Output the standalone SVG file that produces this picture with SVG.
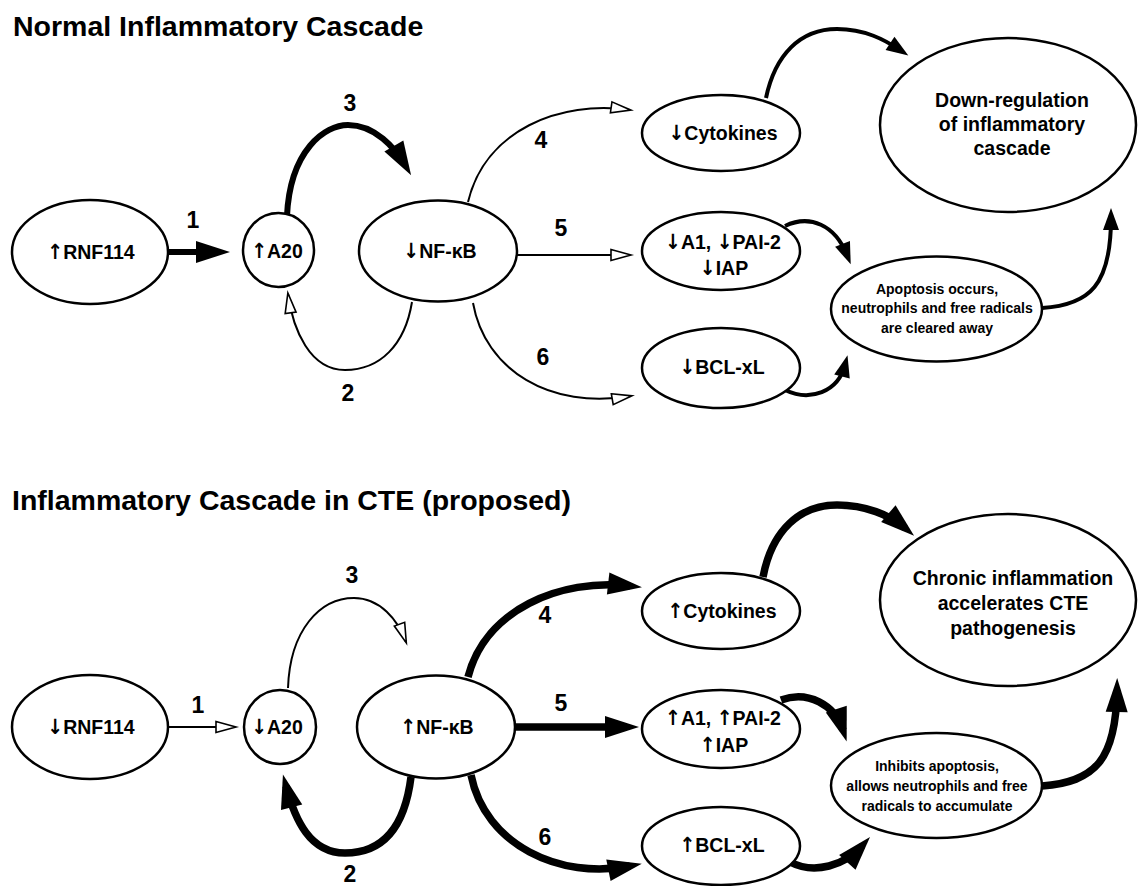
<svg xmlns="http://www.w3.org/2000/svg" width="1138" height="886" viewBox="0 0 1138 886">
<style>
.nd{fill:#fff;stroke:#000;stroke-width:2.5}
.t{font-family:"Liberation Sans",Arial,sans-serif;font-weight:bold;fill:#000;text-anchor:middle}
.ar{font-family:"DejaVu Sans Condensed","DejaVu Sans",sans-serif;font-weight:bold;font-size:21px;fill:#000}
.n{font-size:19.5px}
.s{font-size:14px}
.num{font-size:23px}
.big{font-size:19.5px}
.ttl{font-family:"Liberation Sans",Arial,sans-serif;font-weight:bold;font-size:28.5px;fill:#000}
.c{fill:none;stroke:#000}
.thin{stroke-width:2}
.med{stroke-width:4}
.thk{stroke-width:6}
.hvy{stroke-width:7.5}
</style>
<defs>
<marker id="hf" markerUnits="userSpaceOnUse" markerWidth="34" markerHeight="22" refX="22" refY="11" orient="auto" overflow="visible">
<path d="M0,0 L34,11 L0,22 Z" fill="#000"/>
</marker>
<marker id="mf" markerUnits="userSpaceOnUse" markerWidth="22" markerHeight="16" refX="12" refY="8" orient="auto" overflow="visible">
<path d="M0,0 L22,8 L0,16 Z" fill="#000"/>
</marker>
<marker id="op" markerUnits="userSpaceOnUse" markerWidth="20" markerHeight="11" refX="19" refY="5.5" orient="auto" overflow="visible">
<path d="M0,0 L20,5.5 L0,11 Z" fill="#fff" stroke="#000" stroke-width="1.6"/>
</marker>
</defs>

<text class="ttl" x="13" y="36">Normal Inflammatory Cascade</text>
<text class="ttl" x="12" y="510">Inflammatory Cascade in CTE (proposed)</text>

<g id="connectors">
<!-- top panel -->
<path class="c thk" d="M168,252 L218,252" marker-end="url(#hf)"/>
<path class="c thk" d="M287,216 C290,150 325,125 348,125 C375,125 395,148 405,165" marker-end="url(#hf)"/>
<path class="c thin" d="M412,302 C405,345 380,370 345,370 C310,370 293,330 288,294" marker-end="url(#op)"/>
<path class="c thin" d="M468,202 C485,130 560,100 630,110" marker-end="url(#op)"/>
<path class="c thin" d="M517,255 L630,255" marker-end="url(#op)"/>
<path class="c thin" d="M473,303 C485,370 550,410 631,396" marker-end="url(#op)"/>
<path class="c med" d="M766,98 C775,55 800,29 837,29 C865,29 885,40 900,50" marker-end="url(#mf)"/>
<path class="c med" d="M785,226 C810,214 835,225 847,255" marker-end="url(#mf)"/>
<path class="c med" d="M785,390 C810,402 838,392 845,365" marker-end="url(#mf)"/>
<path class="c med" d="M1042,308 C1090,305 1111,285 1111,218" marker-end="url(#mf)"/>
<!-- bottom panel -->
<path class="c thin" d="M168,727 L235,727" marker-end="url(#op)"/>
<path class="c thin" d="M288,688 C290,630 320,598 354,598 C380,598 398,620 406,642" marker-end="url(#op)"/>
<path class="c hvy" d="M411,777 C405,825 385,853 345,853 C310,853 295,820 286,786" marker-end="url(#hf)"/>
<path class="c hvy" d="M468,677 C485,610 560,578 630,586" marker-end="url(#hf)"/>
<path class="c hvy" d="M515,727 L627,727" marker-end="url(#hf)"/>
<path class="c hvy" d="M471,775 C485,845 560,880 630,866" marker-end="url(#hf)"/>
<path class="c hvy" d="M763,577 C772,530 800,505 837,505 C865,505 890,515 905,528" marker-end="url(#hf)"/>
<path class="c hvy" d="M781,700 C808,690 835,705 843,730" marker-end="url(#hf)"/>
<path class="c hvy" d="M790,862 C815,875 845,865 862,846" marker-end="url(#hf)"/>
<path class="c hvy" d="M1042,786 C1095,782 1116,760 1117,690" marker-end="url(#hf)"/>
<!-- labels -->
<text class="t num" x="193" y="228">1</text>
<text class="t num" x="348" y="401">2</text>
<text class="t num" x="350" y="111">3</text>
<text class="t num" x="541" y="148">4</text>
<text class="t num" x="561" y="236">5</text>
<text class="t num" x="543" y="365">6</text>
<text class="t num" x="198" y="713">1</text>
<text class="t num" x="350" y="882">2</text>
<text class="t num" x="352" y="583">3</text>
<text class="t num" x="545" y="623">4</text>
<text class="t num" x="561" y="711">5</text>
<text class="t num" x="545" y="845">6</text>
</g>

<!-- top nodes -->
<g id="rnf114-top"><ellipse class="nd" cx="90" cy="252" rx="78" ry="52"/><text class="t n" x="91" y="259"><tspan class="ar">↑</tspan>RNF114</text></g>
<g id="a20-top"><ellipse class="nd" cx="278.5" cy="250" rx="35.5" ry="37"/><text class="t n" x="277" y="258"><tspan class="ar">↑</tspan>A20</text></g>
<g id="nfkb-top"><ellipse class="nd" cx="438" cy="251" rx="79" ry="50.5"/><text class="t n" x="440" y="258"><tspan class="ar">↓</tspan>NF-κB</text></g>
<g id="cytokines-top"><ellipse class="nd" cx="721" cy="133" rx="79" ry="38"/><text class="t n" x="723" y="140"><tspan class="ar">↓</tspan>Cytokines</text></g>
<g id="a1-top"><ellipse class="nd" cx="721" cy="251" rx="79" ry="39"/><text class="t n" x="723" y="249"><tspan class="ar">↓</tspan>A1, <tspan class="ar">↓</tspan>PAI-2</text><text class="t n" x="724" y="275"><tspan class="ar">↓</tspan>IAP</text></g>
<g id="bclxl-top"><ellipse class="nd" cx="721" cy="368" rx="79" ry="40"/><text class="t n" x="722" y="374"><tspan class="ar">↓</tspan>BCL-xL</text></g>
<g id="apoptosis-top"><ellipse class="nd" cx="936.5" cy="309" rx="105.5" ry="52.5"/><text class="t s" x="937" y="294">Apoptosis occurs,</text><text class="t s" x="937" y="313">neutrophils and free radicals</text><text class="t s" x="937" y="333">are cleared away</text></g>
<g id="downreg-top"><ellipse class="nd" cx="1008" cy="125" rx="128" ry="87"/><text class="t big" x="1012" y="107">Down-regulation</text><text class="t big" x="1012" y="131">of inflammatory</text><text class="t big" x="1012" y="155">cascade</text></g>

<!-- bottom nodes -->
<g id="rnf114-bot"><ellipse class="nd" cx="90" cy="727" rx="78" ry="52"/><text class="t n" x="91" y="734"><tspan class="ar">↓</tspan>RNF114</text></g>
<g id="a20-bot"><ellipse class="nd" cx="280" cy="727" rx="36" ry="37"/><text class="t n" x="277" y="734"><tspan class="ar">↓</tspan>A20</text></g>
<g id="nfkb-bot"><ellipse class="nd" cx="436" cy="727" rx="79" ry="51.5"/><text class="t n" x="437" y="734"><tspan class="ar">↑</tspan>NF-κB</text></g>
<g id="cytokines-bot"><ellipse class="nd" cx="721" cy="611" rx="79" ry="38"/><text class="t n" x="722" y="618"><tspan class="ar">↑</tspan>Cytokines</text></g>
<g id="a1-bot"><ellipse class="nd" cx="721" cy="729" rx="79" ry="39"/><text class="t n" x="723" y="725"><tspan class="ar">↑</tspan>A1, <tspan class="ar">↑</tspan>PAI-2</text><text class="t n" x="724" y="752"><tspan class="ar">↑</tspan>IAP</text></g>
<g id="bclxl-bot"><ellipse class="nd" cx="721" cy="846" rx="79" ry="39"/><text class="t n" x="722" y="852"><tspan class="ar">↑</tspan>BCL-xL</text></g>
<g id="inhibits-bot"><ellipse class="nd" cx="936.5" cy="785.5" rx="105.5" ry="52.5"/><text class="t s" x="937" y="771">Inhibits apoptosis,</text><text class="t s" x="937" y="791">allows neutrophils and free</text><text class="t s" x="937" y="811">radicals to accumulate</text></g>
<g id="chronic-bot"><ellipse class="nd" cx="1008" cy="600" rx="128" ry="86"/><text class="t big" x="1013" y="585">Chronic inflammation</text><text class="t big" x="1013" y="610">accelerates CTE</text><text class="t big" x="1013" y="635">pathogenesis</text></g>
</svg>
